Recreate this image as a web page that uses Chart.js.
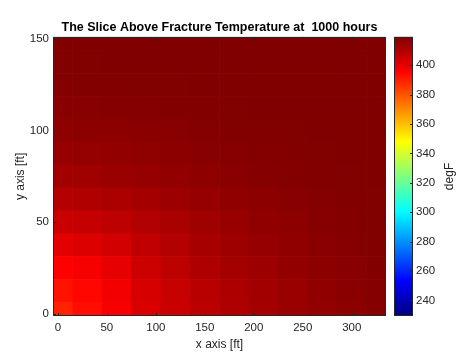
<!DOCTYPE html>
<html>
<head>
<meta charset="utf-8">
<script src="https://cdn.jsdelivr.net/npm/chart.js@4"></script>
<style>
  html, body { margin: 0; padding: 0; background: #fff; }
  #wrap { width: 460px; height: 353px; }
</style>
</head>
<body>
<div id="wrap"><canvas id="grafico"></canvas></div>
<script>
// Slice temperature field (degF).
const titulo = 'The Slice Above Fracture Temperature at  1000 hours';
const xCentros = [0, 30, 60, 90, 120, 150, 180, 210, 240, 270, 300, 330];
const yCentros = [0, 12.5, 25, 37.5, 50, 62.5, 75, 87.5, 100, 112.5, 125, 137.5, 150];

// one array per row (y), values left to right (x)
const tY000 = [389.5, 393.0, 397.0, 402.5, 405.5, 408.0, 410.5, 412.3, 414.2, 415.8, 417.0, 418.0];
const tY012 = [392.0, 394.5, 398.0, 403.0, 406.0, 408.6, 411.0, 412.8, 414.6, 416.1, 417.3, 418.2];
const tY025 = [395.5, 397.0, 400.0, 404.8, 407.8, 410.6, 412.5, 414.0, 415.6, 416.8, 417.8, 418.5];
const tY037 = [401.0, 402.0, 404.0, 407.2, 409.8, 412.0, 413.7, 415.0, 416.3, 417.4, 418.2, 418.8];
const tY050 = [405.5, 406.3, 407.8, 409.8, 411.6, 413.4, 414.8, 416.0, 417.0, 417.9, 418.5, 419.0];
const tY062 = [409.5, 410.0, 411.2, 412.5, 413.8, 415.0, 416.0, 416.9, 417.7, 418.3, 418.8, 419.1];
const tY075 = [412.8, 413.3, 414.1, 415.0, 415.8, 416.6, 417.4, 418.0, 418.5, 418.9, 419.1, 419.3];
const tY087 = [415.0, 415.3, 415.8, 416.4, 417.0, 417.6, 418.1, 418.5, 418.9, 419.1, 419.3, 419.3];
const tY100 = [416.5, 416.7, 417.0, 417.4, 417.8, 418.2, 418.6, 418.9, 419.1, 419.3, 419.3, 419.3];
const tY112 = [417.6, 417.8, 418.0, 418.3, 418.6, 418.9, 419.1, 419.3, 419.3, 419.3, 419.3, 419.3];
const tY125 = [418.5, 418.6, 418.8, 419.0, 419.1, 419.2, 419.3, 419.3, 419.3, 419.3, 419.3, 419.3];
const tY137 = [419.0, 419.1, 419.2, 419.3, 419.3, 419.3, 419.3, 419.3, 419.3, 419.3, 419.3, 419.3];
const tY150 = [419.3, 419.3, 419.3, 419.3, 419.3, 419.3, 419.3, 419.3, 419.3, 419.3, 419.3, 419.3];
const linhas = [tY000, tY012, tY025, tY037, tY050, tY062, tY075, tY087, tY100, tY112, tY125, tY137, tY150];

const xTicks = [0, 50, 100, 150, 200, 250, 300];
const yTicks = [0, 50, 100, 150];
const cTicks = [240, 260, 280, 300, 320, 340, 360, 380, 400];
const cMin = 229.4;
const cMax = 419.3;

const COR_TEXTO = '#262626';
const FAMILIA = "'Liberation Sans', Arial, sans-serif";
const FONTE_TICKS = { family: FAMILIA, size: 11.5 };
const FONTE_EIXO = { family: FAMILIA, size: 12 };

// MATLAB jet colormap
function jet(f) {
  const c = (v) => Math.max(0, Math.min(1, v));
  return [c(1.5 - Math.abs(4 * f - 3)), c(1.5 - Math.abs(4 * f - 2)), c(1.5 - Math.abs(4 * f - 1))];
}
function corJet(t) {
  const f = Math.max(0, Math.min(1, (t - cMin) / (cMax - cMin)));
  const [r, g, b] = jet(f).map((v) => Math.round(v * 255));
  return `rgb(${r},${g},${b})`;
}

const dy = yCentros[1] - yCentros[0];

const datasets = linhas.map((linha, i) => ({
  data: linha.map((t, j) => ({ x: xCentros[j], y: [yCentros[i] - dy / 2, yCentros[i] + dy / 2] })),
  backgroundColor: linha.map(corJet),
  borderWidth: 0,
  barPercentage: 1,
  categoryPercentage: 1,
  grouped: false,
}));

function fixarTicks(lista) {
  return (scale) => { scale.ticks = lista.map((v) => ({ value: v })); };
}

// box, inward ticks and colorbar
const molduraPlugin = {
  id: 'moldura',
  afterDraw(chart) {
    const { ctx, chartArea: a, scales } = chart;
    ctx.save();
    ctx.strokeStyle = COR_TEXTO;
    ctx.lineWidth = 1;
    ctx.strokeRect(a.left + 0.5, a.top + 0.5, a.right - a.left - 1, a.bottom - a.top - 1);

    ctx.beginPath();
    xTicks.forEach((v) => {
      const px = Math.round(scales.x.getPixelForValue(v)) + 0.5;
      ctx.moveTo(px, a.bottom); ctx.lineTo(px, a.bottom - 3);
      ctx.moveTo(px, a.top); ctx.lineTo(px, a.top + 3);
    });
    yTicks.forEach((v) => {
      const py = Math.round(scales.y.getPixelForValue(v)) + 0.5;
      ctx.moveTo(a.left, py); ctx.lineTo(a.left + 3, py);
      ctx.moveTo(a.right, py); ctx.lineTo(a.right - 3, py);
    });
    ctx.stroke();

    // colorbar
    const c = scales.c;
    const x0 = a.right + 8;
    const x1 = a.right + 27;
    const g = ctx.createLinearGradient(0, c.bottom, 0, c.top);
    [0, 1 / 8, 3 / 8, 5 / 8, 7 / 8, 1].forEach((f) => {
      const [r, gg, b] = jet(f).map((v) => Math.round(v * 255));
      g.addColorStop(f, `rgb(${r},${gg},${b})`);
    });
    ctx.fillStyle = g;
    ctx.fillRect(x0, c.top, x1 - x0, c.bottom - c.top);
    ctx.strokeRect(x0 + 0.5, c.top + 0.5, x1 - x0 - 1, c.bottom - c.top - 1);
    ctx.beginPath();
    cTicks.forEach((v) => {
      const py = Math.round(c.getPixelForValue(v)) + 0.5;
      ctx.moveTo(x1, py); ctx.lineTo(x1 - 3, py);
    });
    ctx.stroke();

    ctx.fillStyle = COR_TEXTO;
    ctx.font = `${FONTE_EIXO.size}px ${FAMILIA}`;
    ctx.textAlign = 'center';
    ctx.textBaseline = 'middle';
    ctx.translate(a.right + 64, (c.top + c.bottom) / 2);
    ctx.rotate(-Math.PI / 2);
    ctx.fillText('degF', 0, 0);
    ctx.restore();
  },
};

new Chart(document.getElementById('grafico'), {
  type: 'bar',
  data: { datasets },
  options: {
    responsive: true,
    maintainAspectRatio: false,
    animation: false,
    events: [],
    layout: { padding: 0 },
    plugins: {
      legend: { display: false },
      tooltip: { enabled: false },
      title: {
        display: true,
        text: titulo,
        fullSize: false,
        color: 'black',
        font: { family: FAMILIA, size: 12.5, weight: 'bold' },
        padding: { top: 6, bottom: 2 },
      },
    },
    scales: {
      x: {
        type: 'linear',
        offset: false,
        min: -5,
        max: 335,
        afterBuildTicks: fixarTicks(xTicks),
        afterFit: (s) => { s.height = 37; },
        grid: { display: false, drawTicks: false },
        border: { display: false },
        ticks: { color: COR_TEXTO, font: FONTE_TICKS, padding: 5, maxRotation: 0, autoSkip: false },
        title: { display: true, text: 'x axis [ft]', color: COR_TEXTO, font: FONTE_EIXO, padding: { top: 0, bottom: 1 } },
      },
      y: {
        type: 'linear',
        min: -1.25,
        max: 151.25,
        afterBuildTicks: fixarTicks(yTicks),
        afterFit: (s) => { s.width = 53; },
        grid: { display: false, drawTicks: false },
        border: { display: false },
        ticks: { color: COR_TEXTO, font: FONTE_TICKS, padding: 4 },
        title: { display: true, text: 'y axis [ft]', color: COR_TEXTO, font: FONTE_EIXO, padding: { top: 13, bottom: 0 } },
      },
      c: {
        type: 'linear',
        axis: 'y',
        position: 'right',
        min: cMin,
        max: cMax,
        afterBuildTicks: fixarTicks(cTicks),
        afterFit: (s) => { s.width = 74; },
        grid: { display: false, drawTicks: false },
        border: { display: false },
        ticks: { color: COR_TEXTO, font: FONTE_TICKS, padding: 30 },
      },
    },
  },
  plugins: [molduraPlugin],
});
</script>
</body>
</html>
